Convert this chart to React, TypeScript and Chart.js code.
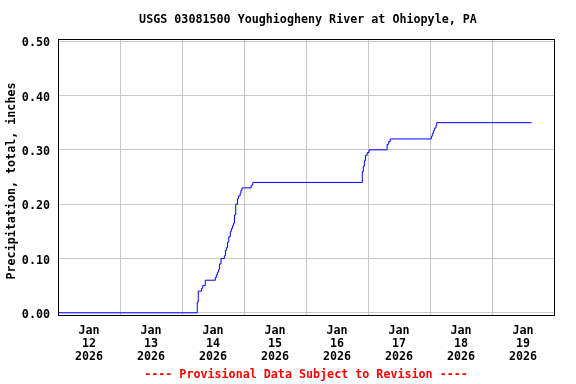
import React, { useEffect, useRef } from 'react';
import { Chart, registerables } from 'chart.js';

Chart.register(...registerables);

const TITLE = 'USGS 03081500 Youghiogheny River at Ohiopyle, PA';
const Y_LABEL = 'Precipitation, total, inches';
const FOOTER = '---- Provisional Data Subject to Revision ----';
const MONTH = 'Jan';
const YEAR = '2026';
const DAY_LABELS = ['12', '13', '14', '15', '16', '17', '18', '19'];
const Y_TICKS = [0, 0.1, 0.2, 0.3, 0.4, 0.5];

// hours since Jan 12 2026 00:00
const HOURS = [
  0, 53.9, 54.3, 55.6, 56.0, 57.0, 60.9, 61.3, 61.7, 62.2, 62.5, 63.1, 64.4, 64.8, 65.2, 65.6,
  66.1, 66.7, 67.1, 67.5, 67.9, 68.3, 68.8, 69.5, 69.9, 70.5, 70.8, 71.2, 74.8, 75.4,
  117.8, 118.2, 118.6, 119.0, 119.7, 120.4, 127.4, 128.0, 128.6,
  144.5, 144.9, 145.3, 145.7, 146.3, 146.6, 183.3,
];
const TOTALS = [
  0, 0.02, 0.04, 0.045, 0.05, 0.06, 0.065, 0.07, 0.075, 0.08, 0.09, 0.10, 0.105, 0.115, 0.12, 0.13,
  0.14, 0.15, 0.155, 0.16, 0.165, 0.18, 0.20, 0.21, 0.215, 0.22, 0.225, 0.23, 0.235, 0.24,
  0.26, 0.27, 0.28, 0.29, 0.295, 0.30, 0.31, 0.315, 0.32,
  0.325, 0.33, 0.335, 0.34, 0.345, 0.35, 0.35,
];

const FONT_FAMILY = "'DejaVu Sans Mono', 'Liberation Mono', monospace";
const FONT_SIZE = 11.7;
const GRID = '#c8c8c8';

const framePlugin = {
  id: 'frameAndText',
  afterDraw(chart: any) {
    const { ctx, chartArea } = chart;
    const { left, top, right, bottom } = chartArea;
    ctx.save();
    ctx.strokeStyle = '#000';
    ctx.lineWidth = 1;
    ctx.strokeRect(left + 0.5, top + 0.5, right - left, bottom - top);
    const cx = (left + right) / 2;
    ctx.font = `bold ${FONT_SIZE}px ${FONT_FAMILY}`;
    ctx.textAlign = 'center';
    ctx.textBaseline = 'middle';
    ctx.fillStyle = '#000';
    ctx.fillText(TITLE, cx + 2, 20);
    ctx.fillStyle = '#ff0000';
    ctx.fillText(FOOTER, cx, 375);
    ctx.fillStyle = '#000';
    ctx.translate(12, 181);
    ctx.rotate(-Math.PI / 2);
    ctx.fillText(Y_LABEL, 0, 0);
    ctx.restore();
  },
};

export default function App() {
  const ref = useRef<HTMLCanvasElement | null>(null);
  useEffect(() => {
    if (!ref.current) return;
    const points = HOURS.map((h, i) => ({ x: h, y: TOTALS[i] }));
    const chart = new Chart(ref.current, {
      type: 'line',
      data: {
        datasets: [
          {
            data: points,
            borderColor: '#0000ff',
            borderWidth: 1,
            pointRadius: 0,
            stepped: true,
            fill: false,
          },
        ],
      },
      options: {
        animation: false,
        responsive: false,
        devicePixelRatio: 1,
        layout: { padding: { left: 0, right: 22, top: 39, bottom: 0 } },
        plugins: {
          legend: { display: false },
          tooltip: { enabled: false },
          title: { display: false },
        },
        scales: {
          x: {
            type: 'linear',
            min: 0,
            max: 192,
            afterBuildTicks: (s: any) => {
              const t = [];
              for (let v = 0; v <= 192; v += 12) t.push({ value: v });
              s.ticks = t;
            },
            afterFit: (s: any) => {
              s.height = 69;
            },
            border: { display: false },
            grid: {
              color: (c: any) => (c.tick && c.tick.value % 24 === 0 ? GRID : 'rgba(0,0,0,0)'),
              drawTicks: false,
              lineWidth: 1,
            },
            ticks: {
              autoSkip: false,
              maxRotation: 0,
              minRotation: 0,
              padding: 9,
              color: '#000',
              font: { family: FONT_FAMILY, size: FONT_SIZE, weight: 'bold', lineHeight: '13px' } as any,
              callback: (v: any) => {
                const n = Number(v);
                if (n % 24 !== 12) return '';
                const idx = Math.floor(n / 24);
                return [MONTH, DAY_LABELS[idx], YEAR];
              },
            },
          },
          y: {
            min: -0.004,
            max: 0.504,
            afterBuildTicks: (s: any) => {
              s.ticks = Y_TICKS.map((v) => ({ value: v }));
            },
            afterFit: (s: any) => {
              s.width = 58;
            },
            border: { display: false },
            grid: { color: GRID, drawTicks: false, lineWidth: 1 },
            ticks: {
              padding: 8,
              labelOffset: 2,
              color: '#000',
              font: { family: FONT_FAMILY, size: FONT_SIZE, weight: 'bold' } as any,
              callback: (v: any) => Number(v).toFixed(2),
            },
          },
        },
      },
      plugins: [framePlugin],
    });
    return () => chart.destroy();
  }, []);
  return (
    <div style={{ position: 'absolute', left: 0, top: 0, width: 576, height: 384, background: '#fff' }}>
      <canvas ref={ref} width={576} height={384} style={{ width: 576, height: 384, display: 'block' }} />
    </div>
  );
}
